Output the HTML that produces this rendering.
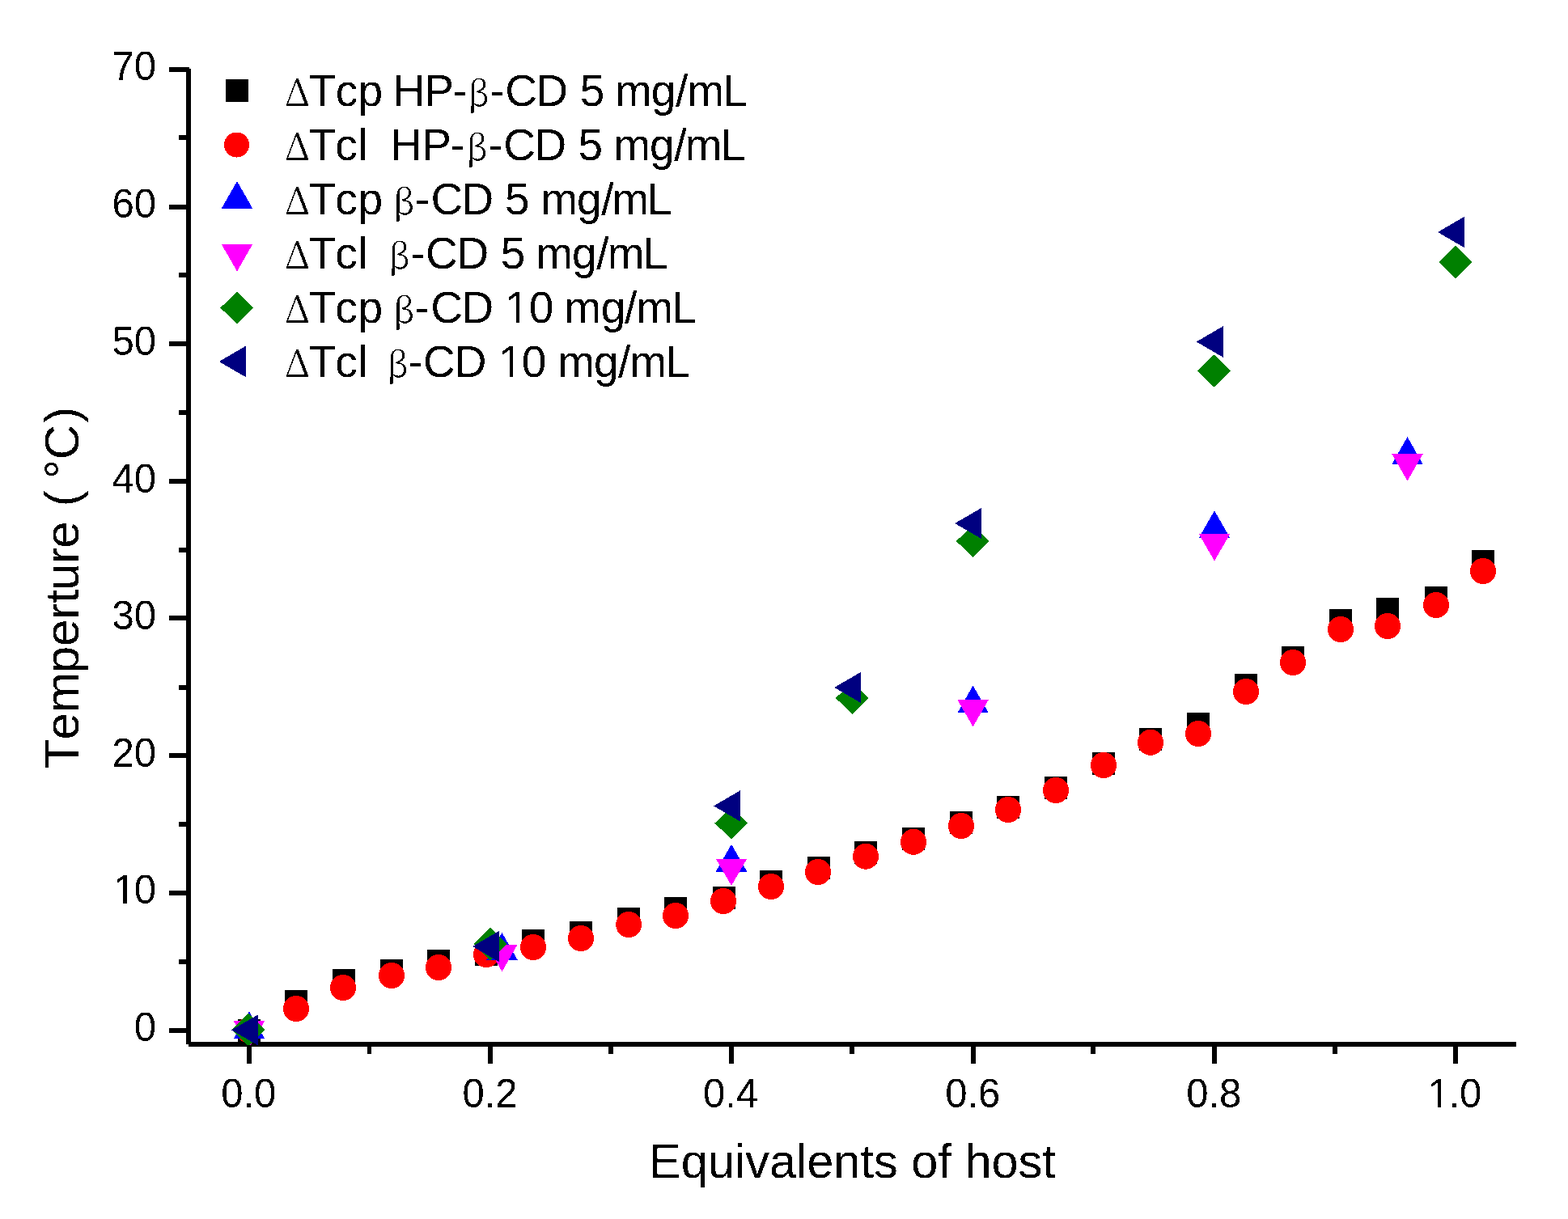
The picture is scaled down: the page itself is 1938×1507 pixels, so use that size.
<!DOCTYPE html>
<html><head><meta charset="utf-8"><title>Temperture vs Equivalents of host</title>
<style>
html,body{margin:0;padding:0;background:#fff;overflow:hidden;}
svg{display:block;}
text{font-family:"Liberation Sans",Arial,sans-serif;fill:#000;font-kerning:none;white-space:pre;}
.g{font-family:"Noto Serif CJK SC","Liberation Serif","Times New Roman",serif;}
</style></head><body>
<svg width="1938" height="1507" viewBox="0 0 1938 1507">
<defs><clipPath id="plot"><rect x="233" y="85" width="1641" height="1207"/></clipPath><filter id="alias" x="0" y="0" width="100%" height="100%" filterUnits="userSpaceOnUse" color-interpolation-filters="sRGB"><feComponentTransfer><feFuncA type="discrete" tableValues="0 1"/></feComponentTransfer></filter></defs>
<rect width="1938" height="1507" fill="#fff"/>
<g shape-rendering="crispEdges"><g fill="#000"><rect x="230" y="85" width="6" height="1206"/><rect x="233" y="1288" width="1641" height="6"/><rect x="209" y="1271" width="25" height="6"/><rect x="209" y="1101" width="25" height="6"/><rect x="209" y="931" width="25" height="6"/><rect x="209" y="761" width="25" height="6"/><rect x="209" y="592" width="25" height="6"/><rect x="209" y="422" width="25" height="6"/><rect x="209" y="253" width="25" height="6"/><rect x="209" y="83" width="25" height="6"/><rect x="221" y="1186" width="12" height="6"/><rect x="221" y="1016" width="12" height="6"/><rect x="221" y="847" width="12" height="6"/><rect x="221" y="677" width="12" height="6"/><rect x="221" y="507" width="12" height="6"/><rect x="221" y="337" width="12" height="6"/><rect x="221" y="167" width="12" height="6"/><rect x="305" y="1291" width="6" height="24"/><rect x="603" y="1291" width="6" height="24"/><rect x="901" y="1291" width="6" height="24"/><rect x="1200" y="1291" width="6" height="24"/><rect x="1498" y="1291" width="6" height="24"/><rect x="1796" y="1291" width="6" height="24"/><rect x="454" y="1291" width="5" height="12"/><rect x="752" y="1291" width="6" height="12"/><rect x="1050" y="1291" width="6" height="12"/><rect x="1348" y="1291" width="6" height="12"/><rect x="1647" y="1291" width="6" height="12"/></g>
<g clip-path="url(#plot)">
<g fill="#000"><rect x="293.5" y="1259.5" width="28" height="28"/><rect x="352" y="1224" width="28" height="28"/><rect x="410.5" y="1198" width="28" height="28"/><rect x="470" y="1186" width="28" height="28"/><rect x="528" y="1174" width="28" height="28"/><rect x="586.5" y="1166" width="28" height="28"/><rect x="645" y="1149" width="28" height="28"/><rect x="704" y="1139" width="28" height="28"/><rect x="763" y="1122" width="28" height="28"/><rect x="821" y="1109" width="28" height="28"/><rect x="880.6" y="1096" width="28" height="28"/><rect x="939" y="1076" width="28" height="28"/><rect x="997.5" y="1059" width="28" height="28"/><rect x="1056" y="1040" width="28" height="28"/><rect x="1115" y="1023" width="28" height="28"/><rect x="1173.6" y="1003" width="28" height="28"/><rect x="1232" y="984" width="28" height="28"/><rect x="1291" y="960" width="28" height="28"/><rect x="1350" y="930" width="28" height="28"/><rect x="1408" y="900" width="28" height="28"/><rect x="1467" y="881" width="28" height="28"/><rect x="1526" y="833" width="28" height="28"/><rect x="1584" y="799" width="28" height="28"/><rect x="1643" y="753" width="28" height="28"/><rect x="1701" y="739" width="28" height="28"/><rect x="1760.5" y="725" width="28" height="28"/><rect x="1819" y="680" width="28" height="28"/></g>
<g fill="#f00"><circle cx="307.5" cy="1273.5" r="16"/><circle cx="366" cy="1247" r="16"/><circle cx="424" cy="1221" r="16"/><circle cx="484" cy="1206" r="16"/><circle cx="542" cy="1196" r="16"/><circle cx="601" cy="1180" r="16"/><circle cx="659" cy="1171" r="16"/><circle cx="718" cy="1160" r="16"/><circle cx="777" cy="1143" r="16"/><circle cx="835" cy="1132" r="16"/><circle cx="894" cy="1114" r="16"/><circle cx="953" cy="1096" r="16"/><circle cx="1011" cy="1078" r="16"/><circle cx="1070" cy="1058.7" r="16"/><circle cx="1129" cy="1040.8" r="16"/><circle cx="1188" cy="1021" r="16"/><circle cx="1246" cy="1001" r="16"/><circle cx="1305" cy="977" r="16"/><circle cx="1364" cy="946" r="16"/><circle cx="1422" cy="917.8" r="16"/><circle cx="1481" cy="907" r="16"/><circle cx="1540" cy="855" r="16"/><circle cx="1598" cy="819" r="16"/><circle cx="1657" cy="778" r="16"/><circle cx="1715" cy="774" r="16"/><circle cx="1775" cy="748" r="16"/><circle cx="1833" cy="706" r="16"/></g>
<g fill="#00f"><polygon points="308,1250.5 327.3,1284.4 288.7,1284.4"/><polygon points="620.5,1153 639.8,1186.9 601.2,1186.9"/><polygon points="904,1043.7 923.3,1077.6 884.7,1077.6"/><polygon points="1202.6,847.5 1221.9,881.4 1183.3,881.4"/><polygon points="1501,631.2 1520.3,665.1 1481.7,665.1"/><polygon points="1739.5,540.2 1758.8,574.1 1720.2,574.1"/></g>
<g fill="#f0f"><polygon points="308,1295.6 288.7,1262.1 327.3,1262.1"/><polygon points="620.5,1201 601.2,1167.5 639.8,1167.5"/><polygon points="904,1095 884.7,1061.5 923.3,1061.5"/><polygon points="1202.6,898.5 1183.3,865 1221.9,865"/><polygon points="1501,693.5 1481.7,660 1520.3,660"/><polygon points="1739.5,594.5 1720.2,561 1758.8,561"/></g>
<g fill="#008000"><polygon points="307,1253 327.4,1273 307,1293 286.4,1273"/><polygon points="606,1147 626.4,1167 606,1187 585.4,1167"/><polygon points="904,997.6 924.4,1017.6 904,1037.6 883.4,1017.6"/><polygon points="1053.5,843 1073.9,863 1053.5,883 1032.9,863"/><polygon points="1202.5,649 1222.9,669 1202.5,689 1181.9,669"/><polygon points="1500.5,438.5 1520.9,458.5 1500.5,478.5 1479.9,458.5"/><polygon points="1799,304 1819.4,324 1799,344 1778.4,324"/></g>
<g fill="#000080"><polygon points="286.2,1273.4 319.4,1254.1 319.4,1292.7"/><polygon points="584,1170 617.2,1150.7 617.2,1189.3"/><polygon points="882,996.4 915.2,977.1 915.2,1015.7"/><polygon points="1031.2,849.9 1064.4,830.6 1064.4,869.2"/><polygon points="1180.2,647 1213.4,627.7 1213.4,666.3"/><polygon points="1478.7,422.5 1511.9,403.2 1511.9,441.8"/><polygon points="1777,287 1810.2,267.7 1810.2,306.3"/></g>
</g>
<g fill="#000"><rect x="279" y="98" width="28" height="28"/></g>
<g fill="#f00"><circle cx="292.5" cy="179" r="15.5"/></g>
<g fill="#00f"><polygon points="293,224 312.3,257.9 273.7,257.9"/></g>
<g fill="#f0f"><polygon points="293,335.4 273.7,301.9 312.3,301.9"/></g>
<g fill="#008000"><polygon points="293,360.5 313.4,380.5 293,400.5 272.4,380.5"/></g>
<g fill="#000080"><polygon points="270.7,447 303.9,427.7 303.9,466.3"/></g></g>
<g filter="url(#alias)"><g transform="matrix(1,0,0,1.02,0,-25.74)"><text x="165.66" y="1287" font-size="49">0</text></g><g transform="matrix(1,0,0,1.02,0,-22.34)"><text x="140.04 165.66" y="1117" font-size="49">10</text></g><g transform="matrix(1,0,0,1.02,0,-18.96)"><text x="138.41 165.66" y="948" font-size="49">20</text></g><g transform="matrix(1,0,0,1.02,0,-15.56)"><text x="138.41 165.66" y="778" font-size="49">30</text></g><g transform="matrix(1,0,0,1.02,0,-12.18)"><text x="138.41 165.66" y="609" font-size="49">40</text></g><g transform="matrix(1,0,0,1.02,0,-8.78)"><text x="138.41 165.66" y="439" font-size="49">50</text></g><g transform="matrix(1,0,0,1.02,0,-5.38)"><text x="138.41 165.66" y="269" font-size="49">60</text></g><g transform="matrix(1,0,0,1.02,0,-1.98)"><text x="138.41 165.66" y="99" font-size="49">70</text></g><g transform="matrix(1,0,0,1.02,0,-27.38)"><text x="273.14 300.39 314.01" y="1369" font-size="49">0.0</text></g><g transform="matrix(1,0,0,1.02,0,-27.38)"><text x="571.42 598.67 612.28" y="1369" font-size="49">0.2</text></g><g transform="matrix(1,0,0,1.02,0,-27.38)"><text x="868.9 896.15 909.77" y="1369" font-size="49">0.4</text></g><g transform="matrix(1,0,0,1.02,0,-27.38)"><text x="1168.26 1195.51 1209.13" y="1369" font-size="49">0.6</text></g><g transform="matrix(1,0,0,1.02,0,-27.38)"><text x="1466.25 1493.5 1507.11" y="1369" font-size="49">0.8</text></g><g transform="matrix(1,0,0,1.02,0,-27.38)"><text x="1764.86 1790.48 1804.1" y="1369" font-size="49">1.0</text></g>
<text x="802.12 841.81 874.9 907.99 921.21 950.96 984.05 997.27 1030.36 1063.45 1079.98 1109.73 1126.26 1159.35 1175.88 1192.41 1225.5 1258.6 1288.35" y="1456" font-size="59.5">Equivalents of host</text>
<g transform="translate(97,949) rotate(-90)"><text x="-1.25 34.55 68.12 116.83 150.05 183.32 203.39 219.3 252.32 271.25 291.25 322.68 342.68 357.03 380.65 426.35" y="0" font-size="60">Temperture ( °C)</text></g><text y="131" font-size="55"><tspan class="g" x="351.77" font-size="46">Δ</tspan><tspan x="381.76 414.66 442.46 457.46 485.49 524.19 559.36">Tcp HP-</tspan><tspan class="g" x="577.93" font-size="43">β</tspan><tspan x="605.56 624.21 662.19 677.19 716.8 731.8 760.05 804.69 835 849.35 893.39">-CD 5 mg/mL</tspan></text><text y="198" font-size="55"><tspan class="g" x="351.77" font-size="46">Δ</tspan><tspan x="381.76 414.26 442.29 457.29 472.29 482.19 521.29 556.26">Tcl  HP-</tspan><tspan class="g" x="575.93" font-size="43">β</tspan><tspan x="603.26 622.31 660.49 675.49 714.6 729.6 758.35 802.99 833.2 846.85 890.69">-CD 5 mg/mL</tspan></text><text y="265" font-size="55"><tspan class="g" x="351.77" font-size="46">Δ</tspan><tspan x="381.76 414.36 442.46 457.46">Tcp </tspan><tspan class="g" x="485.63" font-size="43">β</tspan><tspan x="512.66 532.41 570.49 585.49 624 639 668.35 712.99 743.2 756.15 799.69">-CD 5 mg/mL</tspan></text><text y="332" font-size="55"><tspan class="g" x="351.77" font-size="46">Δ</tspan><tspan x="381.76 414.26 442.29 457.29 472.29">Tcl  </tspan><tspan class="g" x="479.93" font-size="43">β</tspan><tspan x="507.56 526.11 564.59 579.59 618.8 633.8 662.35 706.99 737.2 750.85 794.69">-CD 5 mg/mL</tspan></text><text y="399" font-size="55"><tspan class="g" x="351.77" font-size="46">Δ</tspan><tspan x="381.76 414.26 442.46 457.46">Tcp </tspan><tspan class="g" x="485.83" font-size="43">β</tspan><tspan x="512.46 532.21 570.49 585.49 623.71 653.65 668.65 697.35 742.69 771.9 786.15 830.39">-CD 10 mg/mL</tspan></text><text y="466" font-size="55"><tspan class="g" x="351.77" font-size="46">Δ</tspan><tspan x="381.76 414.26 442.29 457.29 472.29">Tcl  </tspan><tspan class="g" x="477.93" font-size="43">β</tspan><tspan x="504.46 523.01 561.79 576.79 615.71 644.85 659.85 689.35 733.89 764 778.15 822.19">-CD 10 mg/mL</tspan></text></g>
<g fill="#fff" shape-rendering="crispEdges"><rect x="141" y="1112" width="11" height="6"/><rect x="157" y="1112" width="10" height="6"/><rect x="1766" y="1364" width="11" height="6"/><rect x="1781" y="1364" width="11" height="6"/><rect x="625" y="393" width="13" height="7"/><rect x="642" y="393" width="12" height="7"/><rect x="617" y="460" width="13" height="7"/><rect x="634" y="460" width="12" height="7"/></g>
</svg></body></html>
